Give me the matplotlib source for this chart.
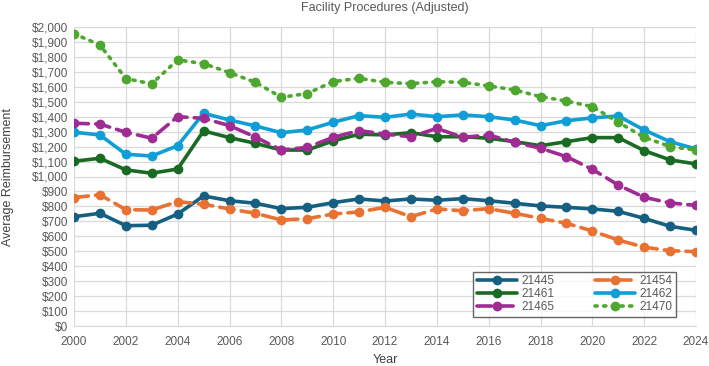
import matplotlib
matplotlib.use('Agg')
import matplotlib.pyplot as plt
from matplotlib.ticker import FuncFormatter, MultipleLocator

# --- Data ---
years = list(range(2000, 2025))

s21445 = [731, 754, 671, 674, 749, 870, 838, 821, 785, 794, 825, 850, 836,
          850, 841, 852, 838, 821, 803, 794, 783, 767, 720, 667, 640]
s21454 = [859, 878, 778, 776, 832, 814, 783, 754, 709, 718, 749, 763, 794,
          731, 783, 771, 785, 754, 720, 687, 636, 575, 527, 504, 497]
s21461 = [1102, 1122, 1044, 1022, 1050, 1305, 1260, 1222, 1177, 1177, 1238, 1283, 1278,
          1293, 1266, 1266, 1256, 1233, 1206, 1233, 1260, 1260, 1173, 1111, 1084]
s21462 = [1296, 1278, 1149, 1137, 1206, 1423, 1378, 1338, 1293, 1311, 1363, 1407, 1396,
          1418, 1400, 1412, 1400, 1378, 1340, 1373, 1392, 1405, 1311, 1233, 1184]
s21465 = [1356, 1351, 1296, 1256, 1400, 1389, 1340, 1264, 1177, 1195, 1262, 1307, 1284,
          1266, 1322, 1262, 1278, 1229, 1189, 1133, 1048, 943, 861, 823, 807]
s21470 = [1955, 1880, 1655, 1620, 1780, 1755, 1695, 1630, 1530, 1555, 1635, 1657, 1630,
          1621, 1634, 1630, 1606, 1579, 1534, 1505, 1467, 1363, 1262, 1200, 1177]

labels = ["21445", "21454", "21461", "21462", "21465", "21470"]
series = [s21445, s21454, s21461, s21462, s21465, s21470]

# Office theme colours and line styles
colors = ["#156082", "#E97132", "#196B24", "#0F9ED5", "#A02B93", "#4EA72E"]
styles = ["-", (0, (4, 2)), "-", "-", (0, (4, 2)), (0, (0.6, 1.8))]

plt.rcParams['font.family'] = ['Liberation Sans', 'DejaVu Sans']
text_col = "#595959"

fig = plt.figure(figsize=(7.09, 3.66), dpi=100)
ax = fig.add_axes([74 / 709, 1 - 326 / 366, 622 / 709, 299 / 366])

handles = []
for vals, lab, c, ls in zip(series, labels, colors, styles):
    h, = ax.plot(years, vals, color=c, linestyle=ls, linewidth=2.6,
                 marker='o', markersize=6, label=lab,
                 dash_capstyle='round', solid_capstyle='round')
    handles.append(h)

ax.set_xlim(2000, 2024)
ax.set_ylim(0, 2000)
ax.xaxis.set_major_locator(MultipleLocator(2))
ax.yaxis.set_major_locator(MultipleLocator(100))
ax.yaxis.set_major_formatter(FuncFormatter(lambda v, p: f"${v:,.0f}"))

ax.grid(True, color="#d9d9d9", linewidth=0.9)
ax.set_axisbelow(True)
for side in ["top", "right", "left"]:
    ax.spines[side].set_visible(False)
ax.spines["bottom"].set_color("#d9d9d9")
ax.tick_params(length=0, labelsize=8.5, colors=text_col, pad=4)
ax.tick_params(axis='x', pad=7)

fig.text(0.5 * (74 + 696) / 709, 1 - 8 / 366, "Facility Procedures (Adjusted)",
         fontsize=9, color=text_col, ha='center', va='center')
ax.set_xlabel("Year", fontsize=9, color="#404040")
ax.xaxis.set_label_coords(0.5, -0.095)
ax.set_ylabel("Average Reimbursement", fontsize=9, color="#404040")
ax.yaxis.set_label_coords(-0.096, 0.5)

# row-major legend order: matplotlib fills columns first
order = [0, 2, 4, 1, 3, 5]
leg = ax.legend([handles[i] for i in order], [labels[i] for i in order],
                ncol=2, loc='lower right', bbox_to_anchor=(0.968, 0.03),
                borderaxespad=0, fontsize=8.5, frameon=True, fancybox=False,
                handlelength=3.4, columnspacing=3.4, labelspacing=0.1,
                borderpad=0.3, handletextpad=0.4)
leg.get_frame().set_edgecolor("#404040")
leg.get_frame().set_linewidth(1.0)
for t in leg.get_texts():
    t.set_color(text_col)

fig.savefig("out.png", dpi=100)
